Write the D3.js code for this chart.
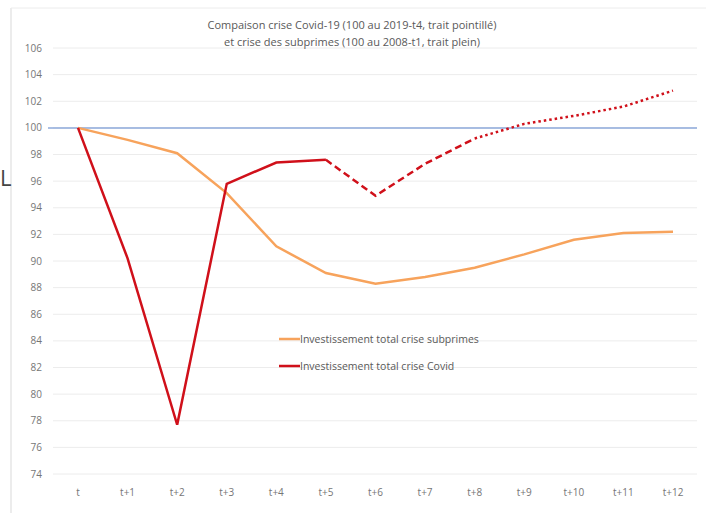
<!DOCTYPE html>
<html>
<head>
<meta charset="utf-8">
<script src="https://cdn.jsdelivr.net/npm/d3@7"></script>
<style>
  body { margin: 0; background: #fff; }
  text { font-family: "Open Sans", "Noto Sans", sans-serif; }
</style>
</head>
<body>
<div id="block"></div>
<script>
// periods on the x axis
var periods = ["t", "t+1", "t+2", "t+3", "t+4", "t+5", "t+6", "t+7", "t+8", "t+9", "t+10", "t+11", "t+12"];

// investissement total, crise des subprimes (100 au 2008-t1)
var subprimes = [100, 99.1, 98.1, 95.1, 91.1, 89.1, 88.3, 88.8, 89.5, 90.5, 91.6, 92.1, 92.2];

// investissement total, crise Covid (100 au 2019-t4)
var covid = [100, 90.2, 77.7, 95.8, 97.4, 97.6, 94.9, 97.3, 99.2, 100.3, 100.9, 101.6, 102.8];

var yTicks = [74, 76, 78, 80, 82, 84, 86, 88, 90, 92, 94, 96, 98, 100, 102, 104, 106];

var titleLines = ["Compaison crise Covid-19 (100 au 2019-t4, trait pointillé)",
                  "et crise des subprimes (100 au 2008-t1, trait plein)"];

var w = 706,
  h = 513;

var svg = d3.select("#block")
          .append("svg")
          .attr("width", w)
          .attr("height", h);

// frame edges visible in the screenshot
svg.append("line").attr("x1", 11).attr("x2", 11).attr("y1", 8).attr("y2", h)
   .attr("stroke", "#d9d9d9");
svg.append("line").attr("x1", 11).attr("x2", w).attr("y1", 8).attr("y2", 8)
   .attr("stroke", "#ececec");
svg.append("text").attr("x", 0).attr("y", 186)
   .attr("font-size", 22).attr("fill", "#444").text("L");

var x = d3.scalePoint()
        .domain(periods)
        .range([78, 673]);

var y = d3.scaleLinear()
        .domain([74, 106])
        .range([474, 48]);

// gridlines
svg.append("g")
   .selectAll("line")
   .data(yTicks)
   .enter()
   .append("line")
   .attr("x1", 53)
   .attr("x2", 697)
   .attr("y1", function(d) { return y(d); })
   .attr("y2", function(d) { return y(d); })
   .attr("stroke", "#ececec")
   .attr("stroke-width", 1);

// y tick labels
svg.append("g")
   .selectAll("text")
   .data(yTicks)
   .enter()
   .append("text")
   .attr("x", 42)
   .attr("y", function(d) { return y(d) + 3.5; })
   .attr("text-anchor", "end")
   .attr("font-size", 10)
   .attr("fill", "#767676")
   .text(function(d) { return d; });

// x tick labels
svg.append("g")
   .selectAll("text")
   .data(periods)
   .enter()
   .append("text")
   .attr("x", function(d) { return x(d); })
   .attr("y", 496)
   .attr("text-anchor", "middle")
   .attr("font-size", 10)
   .attr("fill", "#767676")
   .text(function(d) { return d; });

// reference line at 100
svg.append("line")
   .attr("x1", 48).attr("x2", 697)
   .attr("y1", y(100)).attr("y2", y(100))
   .attr("stroke", "#8eaadb")
   .attr("stroke-width", 1.5);

var line = d3.line()
           .x(function(d) { return x(d.p); })
           .y(function(d) { return y(d.v); });

function pts(values, from, to) {
  var out = [];
  for (var i = from; i <= to; i++) out.push({ p: periods[i], v: values[i] });
  return out;
}

svg.append("path")
   .attr("d", line(pts(subprimes, 0, 12)))
   .attr("fill", "none")
   .attr("stroke", "#f7a35c")
   .attr("stroke-width", 2.5);

// covid: solid, then dashed, then dotted
svg.append("path")
   .attr("d", line(pts(covid, 0, 5)))
   .attr("fill", "none")
   .attr("stroke", "#d0101a")
   .attr("stroke-width", 2.5);

svg.append("path")
   .attr("d", line(pts(covid, 5, 8)))
   .attr("fill", "none")
   .attr("stroke", "#d0101a")
   .attr("stroke-width", 2.5)
   .attr("stroke-dasharray", "7,4");

svg.append("path")
   .attr("d", line(pts(covid, 8, 12)))
   .attr("fill", "none")
   .attr("stroke", "#d0101a")
   .attr("stroke-width", 2.5)
   .attr("stroke-dasharray", "2.5,3");

// title
svg.append("g")
   .selectAll("text")
   .data(titleLines)
   .enter()
   .append("text")
   .attr("x", 352)
   .attr("y", function(d, i) { return 29 + i * 17; })
   .attr("text-anchor", "middle")
   .attr("font-size", 11)
   .attr("fill", "#595959")
   .text(function(d) { return d; });

// legend
var legend = [{ name: "Investissement total crise subprimes", color: "#f7a35c", yy: 339 },
              { name: "Investissement total crise Covid", color: "#d0101a", yy: 366 }];

var lg = svg.append("g")
          .selectAll("g")
          .data(legend)
          .enter()
          .append("g");

lg.append("line")
  .attr("x1", 279).attr("x2", 300)
  .attr("y1", function(d) { return d.yy; })
  .attr("y2", function(d) { return d.yy; })
  .attr("stroke", function(d) { return d.color; })
  .attr("stroke-width", 2.5);

lg.append("text")
  .attr("x", 300)
  .attr("y", function(d) { return d.yy + 4; })
  .attr("font-size", 10.5)
  .attr("fill", "#595959")
  .text(function(d) { return d.name; });
</script>
</body>
</html>
